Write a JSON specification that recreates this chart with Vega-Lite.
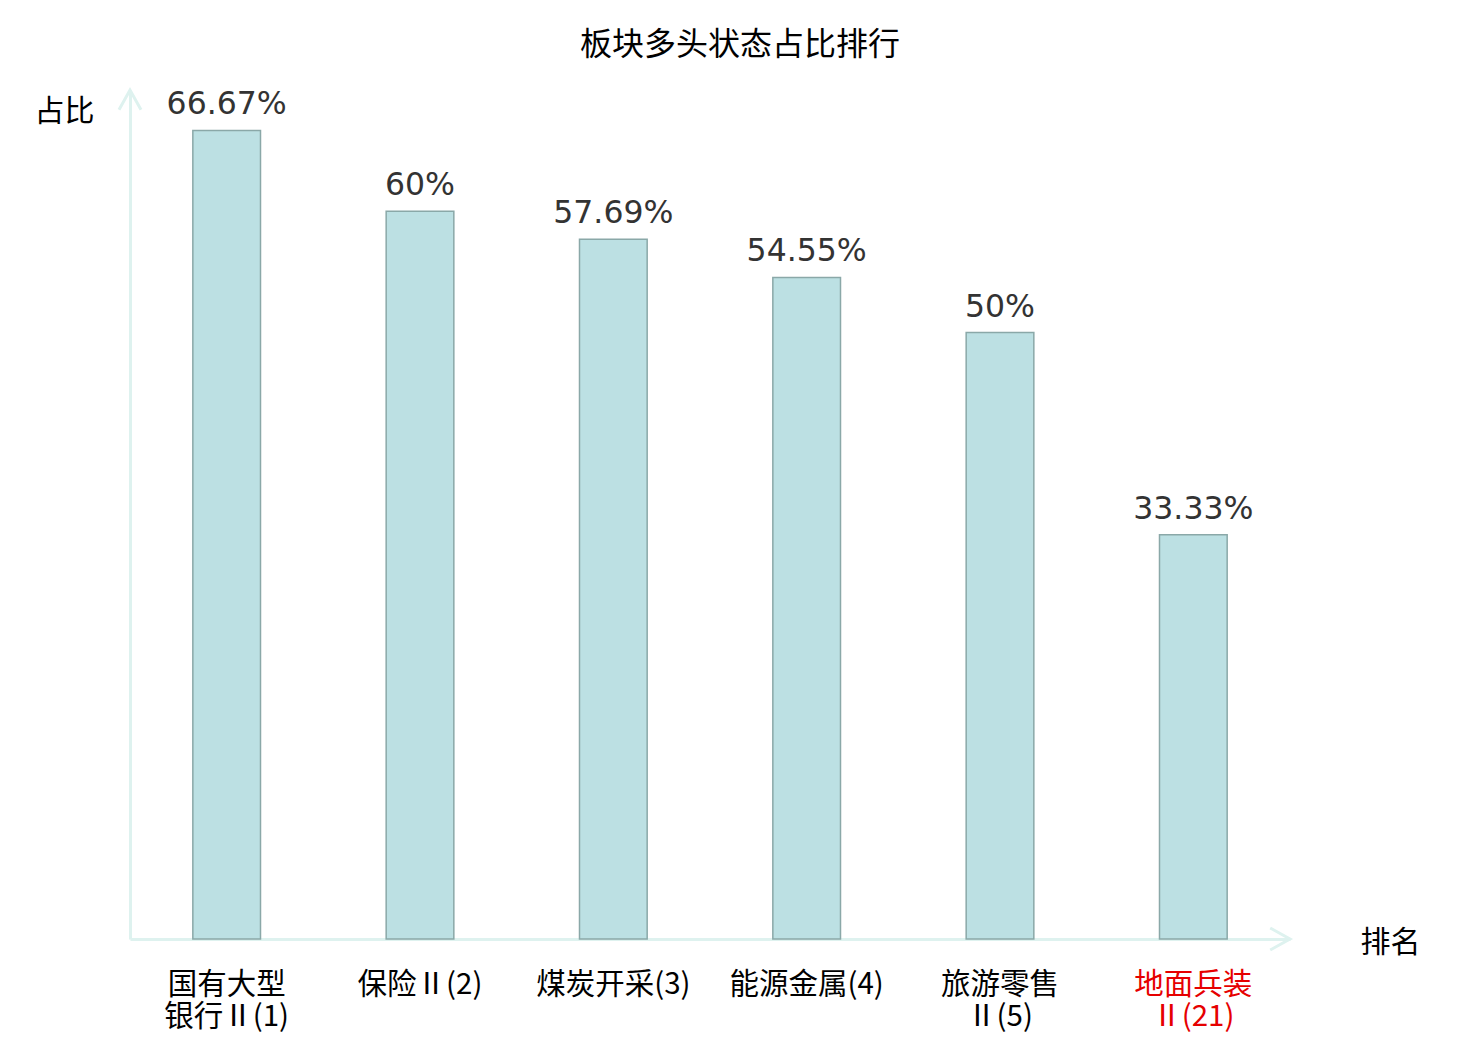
{
  "$schema": "https://vega.github.io/schema/vega-lite/v6.json",
  "autosize": "none",
  "width": 1160,
  "height": 849,
  "padding": {"left": 130, "top": 90, "right": 190, "bottom": 101},
  "background": "white",
  "title": {
    "text": "板块多头状态占比排行",
    "font": "Noto Sans CJK SC",
    "fontSize": 32,
    "fontWeight": "normal",
    "color": "black",
    "anchor": "middle",
    "frame": "group",
    "dx": 30,
    "offset": 22
  },
  "config": {
    "view": {"stroke": null},
    "axis": {"grid": false, "ticks": false}
  },
  "data": {
    "values": [
      {"sector": "国有大型\n银行Ⅱ(1)", "ratio": 66.67, "label": "66.67%"},
      {"sector": "保险Ⅱ(2)", "ratio": 60, "label": "60%"},
      {"sector": "煤炭开采(3)", "ratio": 57.69, "label": "57.69%"},
      {"sector": "能源金属(4)", "ratio": 54.55, "label": "54.55%"},
      {"sector": "旅游零售\nⅡ(5)", "ratio": 50, "label": "50%"},
      {"sector": "地面兵装\nⅡ(21)", "ratio": 33.33, "label": "33.33%"}
    ]
  },
  "encoding": {
    "x": {
      "field": "sector",
      "type": "nominal",
      "sort": null,
      "scale": {"paddingInner": 0.65, "paddingOuter": 0.325},
      "axis": {
        "title": "排名",
        "titleFont": "Noto Sans CJK SC",
        "titleFontSize": 30,
        "titleFontWeight": "normal",
        "titleColor": "black",
        "titleAngle": 0,
        "titleAlign": "center",
        "titleBaseline": "middle",
        "titleX": 1260,
        "titleY": 3,
        "labelAngle": 0,
        "labelFont": "Noto Sans CJK SC",
        "labelFontSize": 29.5,
        "labelLineHeight": 32,
        "labelBaseline": "top",
        "labelPadding": 31,
        "labelExpr": "split(datum.label, '\\n')",
        "labelColor": {
          "condition": {"test": "indexof(datum.value, '地面兵装') >= 0", "value": "#e60000"},
          "value": "black"
        },
        "domainColor": "#def2ef",
        "domainWidth": 3
      }
    },
    "y": {
      "field": "ratio",
      "type": "quantitative",
      "scale": {"domain": [0, 70]},
      "axis": {
        "title": "占比",
        "titleFont": "Noto Sans CJK SC",
        "titleFontSize": 30,
        "titleFontWeight": "normal",
        "titleColor": "black",
        "titleAngle": 0,
        "titleAlign": "center",
        "titleBaseline": "middle",
        "titleX": -66,
        "titleY": 21,
        "labels": false,
        "domainColor": "#def2ef",
        "domainWidth": 3
      }
    }
  },
  "layer": [
    {
      "mark": {"type": "bar", "fill": "#bce0e3", "stroke": "#8aa8a8", "strokeWidth": 1.5}
    },
    {
      "mark": {
        "type": "text",
        "font": "DejaVu Sans",
        "fontSize": 31.5,
        "color": "#333333",
        "baseline": "middle",
        "dy": -25
      },
      "encoding": {"text": {"field": "label"}}
    },
    {
      "data": {"values": [{"ratio": 70}]},
      "mark": {
        "type": "point",
        "shape": "M-1,1.8L0,0L1,1.8",
        "filled": false,
        "stroke": "#def2ef",
        "strokeWidth": 3,
        "size": 484,
        "opacity": 1
      },
      "encoding": {
        "x": {"value": 0},
        "y": {"field": "ratio", "type": "quantitative"}
      }
    },
    {
      "data": {"values": [{"ratio": 0}]},
      "mark": {
        "type": "point",
        "shape": "M-1.8,-1L0,0L-1.8,1",
        "filled": false,
        "stroke": "#def2ef",
        "strokeWidth": 3,
        "size": 484,
        "opacity": 1
      },
      "encoding": {
        "x": {"value": "width"},
        "y": {"field": "ratio", "type": "quantitative"}
      }
    }
  ]
}
